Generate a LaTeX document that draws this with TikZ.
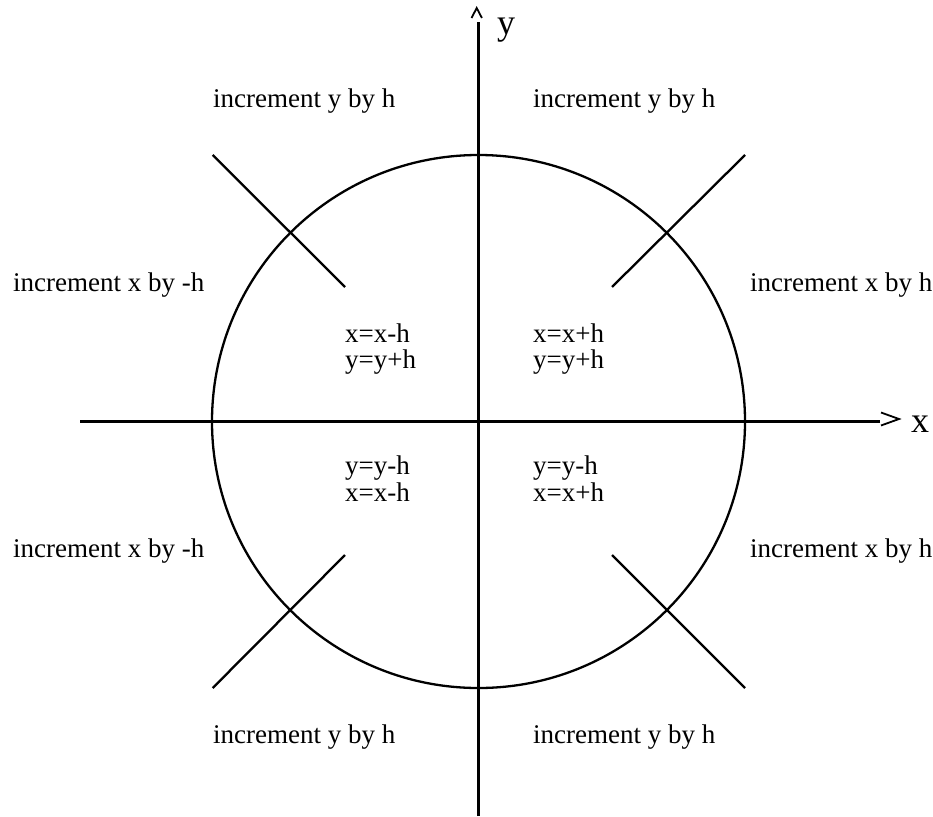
\documentclass[tikz,border=0pt]{standalone}
\usepackage{fontspec}
\setmainfont{Liberation Serif}
\tikzset{
  lbl/.style={anchor=base west, inner sep=0pt, font=\fontsize{27}{27}\selectfont},
  big/.style={anchor=base west, inner sep=0pt, font=\fontsize{36}{36}\selectfont},
  stroke/.style={line width=2.3pt, line cap=butt},
  tipstroke/.style={line width=1.8pt, line join=miter},
}
\begin{document}
\begin{tikzpicture}[x=1pt,y=-1pt]
\useasboundingbox (0,0) rectangle (933,816);
% axes
\coordinate (xl) at (80,421.5);
\coordinate (xr) at (880,421.5);
\coordinate (yb) at (478.5,816);
\coordinate (yt) at (478.5,22);
\draw[stroke] (xl) -- (xr);
\draw[stroke] (yb) -- (yt);
% circle
\coordinate (c) at (478.5,421.5);
\draw[stroke] (c) circle[radius=266.5];
% diagonal crosses
\draw[stroke] (212.7,155) -- (345,287);
\draw[stroke] (612,287) -- (745,155);
\draw[stroke] (345,555) -- (212.7,688);
\draw[stroke] (612,555) -- (745,688);
% open arrow marks at the axis ends
\draw[tipstroke] (881,412.5) -- (899,419) -- (881,425.5);
\draw[tipstroke] (471.5,18) -- (476.7,8) -- (481.9,18);
% axis labels
\node[big] (xlab) at (911,432) {x};
\node[big] (ylab) at (497,35) {y};
% outer labels
\node[lbl] (t1) at (213,107) {increment y by h};
\node[lbl] (t2) at (533,107) {increment y by h};
\node[lbl] (l1) at (13,291) {increment x by -h};
\node[lbl] (r1) at (750,291) {increment x by h};
\node[lbl] (l2) at (13,557) {increment x by -h};
\node[lbl] (r2) at (750,557) {increment x by h};
\node[lbl] (b1) at (213,743) {increment y by h};
\node[lbl] (b2) at (533,743) {increment y by h};
% inner labels
\node[lbl] (q2a) at (345,342) {x=x-h};
\node[lbl] (q2b) at (345,368) {y=y+h};
\node[lbl] (q1a) at (533,342) {x=x+h};
\node[lbl] (q1b) at (533,368) {y=y+h};
\node[lbl] (q3a) at (345,474) {y=y-h};
\node[lbl] (q3b) at (345,501) {x=x-h};
\node[lbl] (q4a) at (533,474) {y=y-h};
\node[lbl] (q4b) at (533,501) {x=x+h};
\end{tikzpicture}
\end{document}
